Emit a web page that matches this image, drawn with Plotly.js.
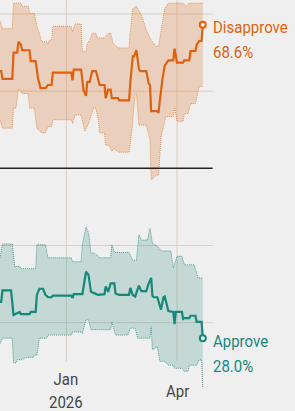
<!DOCTYPE html>
<html>
<head>
<meta charset="utf-8">
<script src="https://cdn.plot.ly/plotly-3.0.1.min.js"></script>
<style>
html,body{margin:0;padding:0;background:#efefef;}
#chart{width:295px;height:411px;}
#chart .annotation-text{transform-box:fill-box;transform-origin:center;transform:scaleY(1.15);}
</style>
</head>
<body>
<div id="chart"></div>
<script>
// Disapprove: central estimate
const disDates = ['2025-11-08','2025-11-09','2025-11-10','2025-11-18','2025-11-19','2025-11-22','2025-11-23','2025-11-25','2025-11-26','2025-12-02','2025-12-03','2025-12-07','2025-12-09','2025-12-10','2025-12-11','2025-12-15','2025-12-17','2025-12-20','2025-12-21','2026-01-05','2026-01-06','2026-01-07','2026-01-13','2026-01-15','2026-01-17','2026-01-18','2026-01-20','2026-01-22','2026-01-25','2026-01-26','2026-01-28','2026-02-01','2026-02-02','2026-02-04','2026-02-06','2026-02-07','2026-02-12','2026-02-13','2026-02-21','2026-02-22','2026-02-24','2026-02-25','2026-02-27','2026-03-01','2026-03-02','2026-03-07','2026-03-09','2026-03-10','2026-03-11','2026-03-15','2026-03-17','2026-03-20','2026-03-22','2026-03-25','2026-03-29','2026-03-30','2026-04-01','2026-04-06','2026-04-07','2026-04-11','2026-04-12','2026-04-16','2026-04-17','2026-04-19','2026-04-21','2026-04-22'];
const disValues = [62.6,62.6,61.6,61.6,65.0,65.0,66.4,66.0,65.3,65.3,63.9,63.9,61.6,61.1,60.4,60.4,60.8,60.8,62.4,62.4,61.4,62.8,62.8,60.1,59.4,61.2,61.2,62.6,62.6,62.1,60.8,60.8,59.1,60.2,60.2,59.1,59.1,58.8,58.8,61.0,64.5,64.5,65.3,62.9,62.6,62.6,61.0,60.8,57.4,57.4,57.3,61.4,63.3,64.0,64.0,65.5,63.7,63.7,64.0,64.0,65.2,65.2,66.0,66.5,66.5,68.6];

// Disapprove: upper bound of band
const disHiDates = ['2025-11-08','2025-11-10','2025-11-18','2025-11-19','2025-11-25','2025-11-26','2025-12-01','2025-12-02','2025-12-06','2025-12-08','2025-12-10','2025-12-12','2025-12-16','2025-12-17','2025-12-18','2025-12-20','2025-12-21','2026-01-05','2026-01-06','2026-01-08','2026-01-13','2026-01-14','2026-01-17','2026-01-18','2026-01-20','2026-01-22','2026-01-25','2026-01-26','2026-02-01','2026-02-04','2026-02-06','2026-02-08','2026-02-12','2026-02-21','2026-02-22','2026-02-24','2026-02-27','2026-03-03','2026-03-07','2026-03-11','2026-03-15','2026-03-17','2026-03-20','2026-03-22','2026-03-25','2026-04-06','2026-04-08','2026-04-11','2026-04-22'];
const disHiValues = [69.1,68.1,68.1,71.4,71.4,71.0,71.0,70.1,70.1,68.4,67.5,66.4,66.4,66.1,66.6,66.6,68.4,68.4,67.7,68.7,68.7,65.1,65.1,66.2,66.6,67.5,67.5,66.9,66.9,67.5,67.5,66.2,65.6,65.6,67.7,70.7,71.0,69.9,67.9,66.6,65.8,65.8,68.7,70.7,71.4,71.4,71.0,71.4,71.4];

// Disapprove: lower bound of band
const disLoDates = ['2025-11-08','2025-11-10','2025-11-18','2025-11-19','2025-11-21','2025-11-23','2025-11-24','2025-11-26','2025-12-01','2025-12-02','2025-12-06','2025-12-08','2025-12-12','2025-12-15','2025-12-17','2025-12-20','2025-12-21','2026-01-05','2026-01-06','2026-01-08','2026-01-13','2026-01-16','2026-01-19','2026-01-23','2026-01-25','2026-01-27','2026-01-28','2026-02-01','2026-02-02','2026-02-05','2026-02-07','2026-02-09','2026-02-12','2026-02-21','2026-02-23','2026-02-26','2026-02-27','2026-03-01','2026-03-07','2026-03-10','2026-03-11','2026-03-15','2026-03-17','2026-03-19','2026-03-23','2026-03-29','2026-03-30','2026-04-01','2026-04-06','2026-04-07','2026-04-10','2026-04-12','2026-04-16','2026-04-19','2026-04-22'];
const disLoValues = [56.3,55.2,55.2,57.8,57.8,60.2,60.2,59.7,59.7,57.8,57.8,55.2,54.6,54.6,55.4,55.4,56.3,56.3,55.8,56.9,56.9,54.8,55.8,57.8,57.8,56.3,54.6,54.6,53.0,53.0,52.2,52.6,52.1,52.1,54.5,59.7,59.7,55.6,55.6,53.7,48.5,49.1,49.1,54.1,56.7,56.7,58.0,56.1,56.1,57.1,57.1,58.4,58.4,60.6,60.6];

// Approve: central estimate
const appDates = ['2025-11-08','2025-11-09','2025-11-10','2025-11-17','2025-11-19','2025-11-24','2025-11-25','2025-12-02','2025-12-03','2025-12-07','2025-12-08','2025-12-10','2025-12-13','2025-12-15','2025-12-17','2025-12-20','2025-12-21','2026-01-05','2026-01-06','2026-01-07','2026-01-14','2026-01-17','2026-01-19','2026-01-21','2026-01-24','2026-01-27','2026-02-01','2026-02-02','2026-02-04','2026-02-06','2026-02-09','2026-02-10','2026-02-13','2026-02-21','2026-02-22','2026-02-24','2026-02-26','2026-03-01','2026-03-03','2026-03-07','2026-03-09','2026-03-11','2026-03-12','2026-03-13','2026-03-16','2026-03-17','2026-03-19','2026-03-21','2026-03-22','2026-03-25','2026-03-27','2026-03-29','2026-03-30','2026-03-31','2026-04-05','2026-04-06','2026-04-07','2026-04-11','2026-04-12','2026-04-16','2026-04-17','2026-04-21','2026-04-22'];
const appValues = [32.7,32.7,34.2,34.2,31.0,31.4,31.1,31.1,31.4,31.4,33.6,34.4,34.4,33.6,33.3,33.3,33.5,33.5,33.2,33.7,33.7,36.6,36.2,34.0,33.8,33.6,33.7,34.7,34.0,35.1,35.1,33.8,33.6,33.6,34.5,33.6,33.4,34.8,34.1,34.1,35.1,35.8,33.5,33.3,33.3,32.8,31.7,33.3,33.4,31.5,31.4,31.4,29.8,31.4,31.4,30.5,30.6,30.6,30.9,30.9,30.1,30.1,28.0];

// Approve: upper bound of band
const appHiDates = ['2025-11-08','2025-11-10','2025-11-18','2025-11-20','2025-11-24','2025-11-25','2025-12-07','2025-12-08','2025-12-15','2025-12-17','2026-01-05','2026-01-06','2026-01-13','2026-01-14','2026-01-17','2026-01-19','2026-01-21','2026-01-24','2026-01-27','2026-01-28','2026-02-06','2026-02-07','2026-02-09','2026-02-21','2026-02-24','2026-02-27','2026-03-01','2026-03-03','2026-03-08','2026-03-10','2026-03-12','2026-03-16','2026-03-19','2026-03-27','2026-03-29','2026-04-01','2026-04-05','2026-04-07','2026-04-15','2026-04-18','2026-04-22'];
const appHiValues = [38.4,40.2,40.2,37.3,37.3,37.0,37.0,40.1,40.1,38.4,38.4,37.9,37.9,40.1,42.4,41.6,39.0,39.0,38.6,38.4,38.4,40.1,39.1,39.1,38.1,38.1,41.4,40.7,40.7,42.2,40.3,39.9,39.3,39.3,37.1,38.6,38.6,37.5,37.5,35.8,35.8];

// Approve: lower bound of band
const appLoDates = ['2025-11-08','2025-11-10','2025-11-18','2025-11-19','2025-11-21','2025-11-22','2025-11-26','2025-11-29','2025-12-05','2025-12-06','2025-12-08','2025-12-10','2025-12-16','2025-12-17','2026-01-05','2026-01-06','2026-01-13','2026-01-14','2026-01-17','2026-01-19','2026-01-21','2026-02-06','2026-02-07','2026-02-10','2026-02-20','2026-02-22','2026-02-26','2026-02-28','2026-03-10','2026-03-11','2026-03-12','2026-03-16','2026-03-18','2026-03-22','2026-03-25','2026-03-29','2026-03-30','2026-04-05','2026-04-07','2026-04-10','2026-04-11','2026-04-17','2026-04-19','2026-04-21','2026-04-22'];
const appLoValues = [27.3,28.0,28.0,24.8,24.8,25.2,25.2,25.5,25.5,25.8,25.8,28.0,28.0,28.4,28.4,28.8,28.8,28.6,30.4,30.4,29.1,29.1,30.1,28.4,28.4,29.3,29.3,28.0,28.0,29.5,26.5,26.9,25.0,25.0,24.5,24.5,24.1,24.1,23.7,23.7,24.5,24.5,25.2,25.2,21.5];

// Axis ticks
const tickDates = ['2026-01-01','2026-04-01'];
const tickLabels = ['Jan<br>2026','Apr'];
const gridValues = [70,60,40,30];
const dividerValue = 50;

const seriesNames = ['Disapprove','Approve'];

const ORANGE = '#dd620f';
const TEAL = '#17877a';
const FONT = 'Roboto, "Noto Sans", sans-serif';
const FS = 15;

function last(a){return a[a.length-1];}

const DOT = '1px,1px';
const traces = [
  {x: appLoDates, y: appLoValues, mode:'lines', line:{color:'rgba(40,140,125,0.8)', width:1, dash:DOT}, hoverinfo:'skip'},
  {x: appHiDates, y: appHiValues, mode:'lines', line:{color:'rgba(40,140,125,0.8)', width:1, dash:DOT}, fill:'tonexty', fillcolor:'rgba(25,130,115,0.2)', hoverinfo:'skip'},
  {x: disLoDates, y: disLoValues, mode:'lines', line:{color:'rgba(230,130,60,0.85)', width:1, dash:DOT}, hoverinfo:'skip'},
  {x: disHiDates, y: disHiValues, mode:'lines', line:{color:'rgba(230,130,60,0.85)', width:1, dash:DOT}, fill:'tonexty', fillcolor:'rgba(225,115,45,0.26)', hoverinfo:'skip'},
  {x: appDates, y: appValues, mode:'lines', line:{color:TEAL, width:2.2}},
  {x: disDates, y: disValues, mode:'lines', line:{color:ORANGE, width:2.2}},
  {x: [last(appDates)], y: [last(appValues)], mode:'markers', marker:{symbol:'circle', size:6, color:'#efefef', line:{color:TEAL, width:2}}, cliponaxis:false},
  {x: [last(disDates)], y: [last(disValues)], mode:'markers', marker:{symbol:'circle', size:6, color:'#efefef', line:{color:ORANGE, width:2}}, cliponaxis:false}
];

const xStart = '2025-11-08';
const xEnd = '2026-07-06';
const gridEnd = '2026-04-30';
const yMin = 18.56, yMax = 71.81;

const shapes = [];
gridValues.forEach(v => shapes.push({type:'line', layer:'below', xref:'x', yref:'y', x0:xStart, x1:gridEnd, y0:v, y1:v, line:{color:'#d8cec2', width:1}}));
tickDates.forEach(d => shapes.push({type:'line', layer:'below', xref:'x', yref:'y', x0:d, x1:d, y0:25, y1:yMax, line:{color:'#d8cec2', width:1}}));
shapes.push({type:'line', layer:'above', xref:'x', yref:'y', x0:xStart, x1:gridEnd, y0:dividerValue, y1:dividerValue, line:{color:'#222222', width:1.5}});

const annotations = [];
tickDates.forEach((d,i) => annotations.push({xref:'x', yref:'paper', x:d, y:1-390.5/411, xanchor:'center', yanchor:'middle', text:tickLabels[i], showarrow:false, align:'center', font:{family:FONT, size:FS, color:'#444444'}}));

const labelX = 211/295;
annotations.push({xref:'paper', yref:'paper', x:labelX, y:1-27.5/411, xanchor:'left', yanchor:'middle', text:seriesNames[0], showarrow:false, font:{family:FONT, size:FS, color:ORANGE}});
annotations.push({xref:'paper', yref:'paper', x:labelX, y:1-52/411, xanchor:'left', yanchor:'middle', text:last(disValues).toFixed(1)+'%', showarrow:false, font:{family:FONT, size:FS, color:ORANGE}});
annotations.push({xref:'paper', yref:'paper', x:labelX, y:1-340.5/411, xanchor:'left', yanchor:'middle', text:seriesNames[1], showarrow:false, font:{family:FONT, size:FS, color:TEAL}});
annotations.push({xref:'paper', yref:'paper', x:labelX, y:1-365.5/411, xanchor:'left', yanchor:'middle', text:last(appValues).toFixed(1)+'%', showarrow:false, font:{family:FONT, size:FS, color:TEAL}});

const layout = {
  width:295, height:411,
  margin:{l:0, r:0, t:0, b:0, pad:0},
  paper_bgcolor:'#efefef', plot_bgcolor:'#efefef',
  showlegend:false,
  xaxis:{type:'date', range:[xStart, xEnd], visible:false, showgrid:false, zeroline:false, fixedrange:true},
  yaxis:{range:[yMin, yMax], visible:false, showgrid:false, zeroline:false, fixedrange:true},
  shapes: shapes,
  annotations: annotations,
  font:{family:FONT}
};

Plotly.newPlot('chart', traces, layout, {staticPlot:true, displayModeBar:false});
</script>
</body>
</html>
